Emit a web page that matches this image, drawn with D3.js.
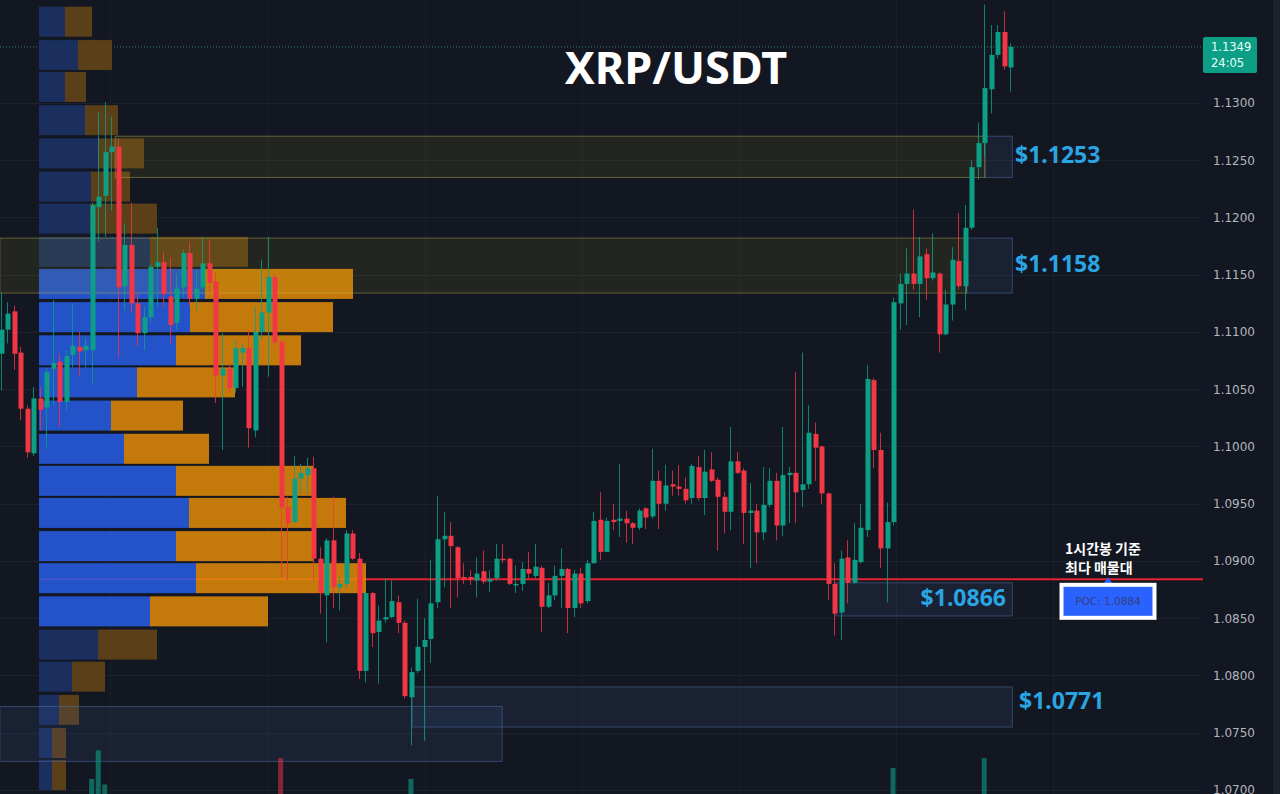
<!DOCTYPE html>
<html>
<head>
<meta charset="utf-8">
<script src="https://cdn.jsdelivr.net/npm/d3@7"></script>
<style>
html, body { margin: 0; padding: 0; background: #131722; overflow: hidden; }
</style>
</head>
<body>
<div id="chart"></div>
<script>
// 1h candles, XRP/USDT
var open = [
1.1081,1.1102,1.1118,1.1082,1.1033,1.0994,1.1042,1.1034,1.1068,1.1074,
1.1039,1.1080,1.1087,1.1084,1.1084,1.1209,1.1219,1.1257,1.1262,1.1140,
1.1176,1.1125,1.1099,1.1113,1.1157,1.1161,1.1131,1.1108,1.1139,1.1169,
1.1129,1.1139,1.1160,1.1144,1.1062,1.1068,1.1051,1.1082,1.1086,1.1014,
1.1100,1.1117,1.1148,1.1091,1.0947,1.0934,1.0972,1.0975,1.0981,1.0902,
1.0870,1.0918,1.0877,1.0880,1.0924,1.0902,1.0804,1.0872,1.0838,1.0849,
1.0851,1.0864,1.0846,1.0781,1.0804,1.0825,1.0832,1.0864,1.0919,1.0922,
1.0912,1.0886,1.0886,1.0883,1.0891,1.0882,1.0885,1.0902,1.0902,1.0879,
1.0880,1.0893,1.0887,1.0894,1.0860,1.0870,1.0887,1.0893,1.0859,1.0889,
1.0865,1.0898,1.0936,1.0908,1.0936,1.0935,1.0937,1.0933,1.0929,1.0946,
1.0939,1.0970,1.0950,1.0967,1.0965,1.0963,1.0955,1.0982,1.0955,1.0980,
1.0971,1.0956,1.0943,1.0987,1.0979,1.0942,1.0944,1.0925,1.0949,1.0970,
1.0931,1.0975,1.0977,1.0962,1.0967,1.1011,1.1000,1.0959,1.0880,1.0855,
1.0903,1.0881,1.0899,1.0927,1.1058,1.0997,1.0911,1.0934,1.1125,1.1142,
1.1151,1.1142,1.1168,1.1147,1.1151,1.1098,1.1124,1.1162,1.1140,1.1191,
1.1244,1.1265,1.1312,1.1342,1.1362,1.1331];

var high = [
1.1134,1.1126,1.1123,1.1087,1.1036,1.1052,1.1052,1.1069,1.1128,1.1081,
1.1084,1.1125,1.1100,1.1095,1.1213,1.1292,1.1301,1.1288,1.1269,1.1195,
1.1213,1.1134,1.1122,1.1160,1.1191,1.1170,1.1165,1.1151,1.1172,1.1179,
1.1154,1.1183,1.1180,1.1152,1.1099,1.1073,1.1093,1.1090,1.1102,1.1122,
1.1163,1.1183,1.1151,1.1093,1.0956,1.0992,1.0985,1.0990,1.0991,1.0912,
1.0920,1.0956,1.0886,1.0927,1.0927,1.0907,1.0873,1.0873,1.0861,1.0885,
1.0883,1.0870,1.0848,1.0807,1.0867,1.0850,1.0901,1.0957,1.0943,1.0934,
1.0913,1.0898,1.0892,1.0903,1.0909,1.0892,1.0915,1.0915,1.0903,1.0896,
1.0899,1.0908,1.0915,1.0896,1.0881,1.0896,1.0911,1.0894,1.0892,1.0894,
1.0901,1.0943,1.0960,1.0938,1.0950,1.0985,1.0944,1.0934,1.0946,1.0947,
1.0998,1.0979,1.0984,1.0979,1.0984,1.0973,1.0985,1.0992,1.0997,1.0995,
1.0973,1.0960,1.1017,1.0995,1.0981,1.0968,1.0950,1.0982,1.0981,1.0977,
1.1017,1.0982,1.1065,1.1082,1.1036,1.1021,1.1001,1.0960,1.0898,1.0909,
1.0918,1.0933,1.0950,1.1071,1.1060,1.1012,1.0951,1.1130,1.1151,1.1173,
1.1207,1.1183,1.1173,1.1186,1.1152,1.1137,1.1174,1.1204,1.1211,1.1250,
1.1283,1.1386,1.1368,1.1368,1.1380,1.1352];

var low = [
1.1049,1.1090,1.1067,1.1023,1.0990,1.0992,1.1014,1.0998,1.1036,1.1017,
1.1032,1.1069,1.1062,1.1069,1.1055,1.1179,1.1183,1.1206,1.1078,1.1119,
1.1117,1.1088,1.1084,1.1108,1.1122,1.1122,1.1090,1.1102,1.1130,1.1123,
1.1119,1.1137,1.1134,1.1038,1.0997,1.1047,1.1047,1.1052,1.0999,1.1008,
1.1093,1.1061,1.1088,1.0886,1.0883,1.0933,1.0959,1.0959,1.0883,1.0854,
1.0829,1.0859,1.0857,1.0877,1.0901,1.0797,1.0794,1.0825,1.0793,1.0846,
1.0850,1.0837,1.0780,1.0739,1.0802,1.0743,1.0811,1.0859,1.0877,1.0859,
1.0868,1.0880,1.0879,1.0868,1.0880,1.0873,1.0883,1.0898,1.0879,1.0872,
1.0874,1.0885,1.0885,1.0838,1.0859,1.0866,1.0859,1.0837,1.0851,1.0859,
1.0863,1.0898,1.0901,1.0908,1.0927,1.0921,1.0916,1.0915,1.0927,1.0928,
1.0937,1.0928,1.0944,1.0957,1.0957,1.0950,1.0950,1.0953,1.0940,1.0969,
1.0909,1.0924,1.0927,1.0976,1.0915,1.0894,1.0898,1.0918,1.0947,1.0918,
1.0922,1.0933,1.0933,1.0947,1.0963,1.0970,1.0950,1.0866,1.0835,1.0831,
1.0863,1.0880,1.0898,1.0921,1.0981,1.0894,1.0864,1.0931,1.1102,1.1106,
1.1137,1.1113,1.1128,1.1145,1.1082,1.1097,1.1110,1.1137,1.1119,1.1189,
1.1233,1.1253,1.1291,1.1339,1.1329,1.1310];

var close = [
1.1102,1.1116,1.1081,1.1033,1.0995,1.1042,1.1032,1.1065,1.1073,1.1039,
1.1079,1.1088,1.1083,1.1088,1.1211,1.1218,1.1257,1.1262,1.1139,1.1176,
1.1125,1.1099,1.1113,1.1157,1.1161,1.1133,1.1106,1.1138,1.1169,1.1129,
1.1138,1.1160,1.1143,1.1062,1.1068,1.1051,1.1086,1.1086,1.1016,1.1100,
1.1117,1.1148,1.1091,1.0947,1.0933,1.0972,1.0977,1.0981,1.0902,1.0872,
1.0918,1.0877,1.0880,1.0924,1.0902,1.0804,1.0872,1.0837,1.0848,1.0851,
1.0865,1.0846,1.0782,1.0803,1.0825,1.0831,1.0863,1.0919,1.0922,1.0913,
1.0885,1.0884,1.0884,1.0889,1.0882,1.0884,1.0902,1.0901,1.0880,1.0880,
1.0893,1.0889,1.0895,1.0860,1.0870,1.0887,1.0893,1.0859,1.0889,1.0863,
1.0898,1.0935,1.0908,1.0935,1.0934,1.0937,1.0933,1.0929,1.0944,1.0938,
1.0970,1.0950,1.0966,1.0965,1.0963,1.0953,1.0983,1.0955,1.0978,1.0970,
1.0956,1.0943,1.0987,1.0977,1.0942,1.0944,1.0925,1.0949,1.0970,1.0931,
1.0975,1.0977,1.0960,1.0967,1.1012,1.0999,1.0959,1.0880,1.0854,1.0902,
1.0881,1.0901,1.0929,1.1059,1.0997,1.0911,1.0934,1.1126,1.1142,1.1151,
1.1142,1.1166,1.1147,1.1152,1.1098,1.1124,1.1163,1.1140,1.1191,1.1244,
1.1265,1.1313,1.1342,1.1362,1.1332,1.1349];

// visible volume spikes (rest hidden below the pane)
var volIdx = [14, 15, 16, 43, 63, 137, 151];
var volVal = [30, 56, 25, 49, 30, 40, 49];

// volume profile (M XRP), rows top to bottom
var profileMid  = [1.1371,1.1342,1.1314,1.1285,1.1256,1.1227,1.1199,1.1170,1.1142,1.1113,1.1084,1.1056,
                   1.1027,1.0998,1.0970,1.0942,1.0913,1.0885,1.0856,1.0827,1.0799,1.0770,1.0741,1.0713];
var profileBuy  = [2.6,3.9,2.6,4.6,5.9,5.2,5.1,11.1,16.6,15.1,13.7,9.8,7.2,8.5,13.7,15.0,13.7,15.7,11.1,5.9,3.3,2.0,1.3,1.3];
var profileSell = [2.7,3.4,2.1,3.3,4.6,3.9,6.7,9.8,14.8,14.3,12.5,9.8,7.2,8.5,13.7,15.7,13.7,17.0,11.8,5.9,3.3,2.0,1.4,1.4];
var valueArea = [1.0842, 1.1156];
var pocPrice = 1.0884;

var priceTicks = [1.13,1.125,1.12,1.115,1.11,1.105,1.10,1.095,1.09,1.085,1.08,1.075,1.07];
var dayLines = [16.75, 40.85, 65.1, 89.2, 113.3, 137.4, 161.5];

// zones: [top, bottom, fromIdx, toIdx]
var yellowZones = [[1.1271, 1.1235, 17.6, 151.1], [1.1182, 1.1134, -0.1, 148.3]];
var blueZones   = [[1.1271, 1.1235, 151.1, 155.3], [1.1182, 1.1134, 148.3, 155.3],
                   [1.0881, 1.0852, 128.1, 155.3], [1.0790, 1.0755, 63.2, 155.3],
                   [1.0773, 1.0725, -0.1, 77.0]];
var levelPrices = [1.1253, 1.1158, 1.0866, 1.0771];
var lastPrice = 1.1349;

var W = 1280, H = 794;
var up = "#0c9f85", down = "#f23645";

var svg = d3.select("#chart").append("svg").attr("width", W).attr("height", H);
svg.append("rect").attr("width", W).attr("height", H).attr("fill", "#131722");

var x = d3.scaleLinear().domain([0, 155]).range([0.5, 1010.3]);
var y = d3.scaleLinear().domain([1.07, 1.13]).range([790, 103]);
var pv = d3.scaleLinear().domain([0, 10]).range([0, 100]);
var vy = d3.scaleLinear().domain([0, 100]).range([812, 702]);
var profileX0 = 39;

// grid
svg.append("g").selectAll("line").data(priceTicks).enter().append("line")
  .attr("x1", 0).attr("x2", 1200)
  .attr("y1", function(d){ return Math.round(y(d)) + 0.5; })
  .attr("y2", function(d){ return Math.round(y(d)) + 0.5; })
  .attr("stroke", "#1d212c");
svg.append("g").selectAll("line").data(dayLines).enter().append("line")
  .attr("x1", function(d){ return Math.round(x(d)) + 0.5; })
  .attr("x2", function(d){ return Math.round(x(d)) + 0.5; })
  .attr("y1", 0).attr("y2", H)
  .attr("stroke", "#1b1f2a");

// current price dotted line
svg.append("line")
  .attr("x1", 0).attr("x2", 1203)
  .attr("y1", y(lastPrice)).attr("y2", y(lastPrice))
  .attr("stroke", "#2f7f72").attr("stroke-dasharray", "1,2");

// POC line (under the profile)
svg.append("line")
  .attr("x1", profileX0).attr("x2", 1203)
  .attr("y1", y(pocPrice)).attr("y2", y(pocPrice))
  .attr("stroke", "#e3232f").attr("stroke-width", 2);

// volume profile
var binHalf = 0.00131;
var rows = profileMid.map(function(m, i){
  return { mid: m, buy: profileBuy[i], sell: profileSell[i],
           inVA: m >= valueArea[0] && m <= valueArea[1] };
});
var prof = svg.append("g").attr("fill-opacity", 0.86);
prof.selectAll(".buy").data(rows).enter().append("rect")
  .attr("x", profileX0)
  .attr("y", function(d){ return y(d.mid + binHalf); })
  .attr("width", function(d){ return pv(d.buy); })
  .attr("height", function(d){ return y(d.mid - binHalf) - y(d.mid + binHalf); })
  .attr("fill", function(d){ return d.inVA ? "#275ce5" : "#1c3369"; });
prof.selectAll(".sell").data(rows).enter().append("rect")
  .attr("x", function(d){ return profileX0 + pv(d.buy); })
  .attr("y", function(d){ return y(d.mid + binHalf); })
  .attr("width", function(d){ return pv(d.sell); })
  .attr("height", function(d){ return y(d.mid - binHalf) - y(d.mid + binHalf); })
  .attr("fill", function(d){ return d.inVA ? "#e28b08" : "#674619"; });

// zones
svg.append("g").selectAll("rect").data(blueZones).enter().append("rect")
  .attr("x", function(d){ return x(d[2]); })
  .attr("y", function(d){ return y(d[0]); })
  .attr("width", function(d){ return x(d[3]) - x(d[2]); })
  .attr("height", function(d){ return y(d[1]) - y(d[0]); })
  .attr("fill", "rgba(70,100,170,0.13)")
  .attr("stroke", "rgba(80,110,160,0.55)").attr("stroke-width", 1);
svg.append("g").selectAll("rect").data(yellowZones).enter().append("rect")
  .attr("x", function(d){ return x(d[2]); })
  .attr("y", function(d){ return y(d[0]); })
  .attr("width", function(d){ return x(d[3]) - x(d[2]); })
  .attr("height", function(d){ return y(d[1]) - y(d[0]); })
  .attr("fill", "rgba(170,160,20,0.11)")
  .attr("stroke", "rgba(200,190,80,0.42)").attr("stroke-width", 1);

// volume spikes
svg.append("g").selectAll("rect").data(volIdx).enter().append("rect")
  .attr("x", function(d){ return x(d) - 2.5; })
  .attr("y", function(d, i){ return vy(volVal[i]); })
  .attr("width", 5)
  .attr("height", function(d, i){ return vy(0) - vy(volVal[i]); })
  .attr("fill", function(d){ return close[d] >= open[d] ? "rgba(12,159,133,0.6)" : "rgba(242,54,69,0.5)"; });

// candles
var candles = d3.range(open.length).map(function(i){
  return { i: i, o: open[i], h: high[i], l: low[i], c: close[i] };
});
var cg = svg.append("g");
cg.selectAll("line").data(candles).enter().append("line")
  .attr("x1", function(d){ return Math.round(x(d.i)) + 0.5; })
  .attr("x2", function(d){ return Math.round(x(d.i)) + 0.5; })
  .attr("y1", function(d){ return y(d.h); })
  .attr("y2", function(d){ return y(d.l); })
  .attr("stroke", function(d){ return d.c >= d.o ? up : down; })
  .attr("stroke-opacity", 0.8);
cg.selectAll("rect").data(candles).enter().append("rect")
  .attr("x", function(d){ return Math.round(x(d.i)) - 1.5; })
  .attr("y", function(d){ return y(Math.max(d.o, d.c)); })
  .attr("width", 5)
  .attr("height", function(d){ return Math.max(1.5, Math.abs(y(d.o) - y(d.c))); })
  .attr("fill", function(d){ return d.c >= d.o ? up : down; });

// price axis
var axis = svg.append("g").attr("transform", "translate(1213,0)")
  .call(d3.axisRight(y).tickValues(priceTicks).tickSize(0).tickPadding(0).tickFormat(d3.format(".4f")));
axis.select(".domain").remove();
axis.selectAll("text").attr("fill", "#b2b5be").style("font-family", "DejaVu Sans").style("font-size", "12px");
svg.append("rect").attr("x", 1273).attr("y", 0).attr("width", 7).attr("height", H).attr("fill", "#1e222c");

// last price tag
svg.append("rect").attr("x", 1203).attr("y", 37).attr("width", 54).attr("height", 36)
  .attr("rx", 2).attr("fill", "#0c9f85");
svg.append("text").attr("x", 1211).attr("y", 51).text(d3.format(".4f")(lastPrice))
  .attr("fill", "#e8fff9").style("font-family", "DejaVu Sans").style("font-size", "11.5px");
svg.append("text").attr("x", 1211).attr("y", 67).text("24:05")
  .attr("fill", "#e8fff9").style("font-family", "DejaVu Sans").style("font-size", "11.5px");

// title
svg.append("text").attr("x", 676).attr("y", 84).attr("text-anchor", "middle")
  .text("XRP/USDT").attr("fill", "#ffffff")
  .style("font-family", "Noto Sans").style("font-weight", "bold").style("font-size", "45px");

// level labels
var lbl = svg.append("g").style("font-family", "Noto Sans").style("font-weight", "bold").style("font-size", "23px");
levelPrices.forEach(function(p, i){
  var t = lbl.append("text").attr("y", y(p)).attr("dy", "0.28em")
    .attr("fill", "#2aa5e2").text("$" + d3.format(".4f")(p));
  if (i === 2) t.attr("x", 1006).attr("text-anchor", "end");
  else if (i === 3) t.attr("x", 1019).attr("dy", "0.02em");
  else t.attr("x", 1015);
});

// POC annotation
var note = svg.append("g").style("font-family", "'Noto Sans CJK KR'").style("font-weight", "bold")
  .style("font-size", "14px").attr("fill", "#ffffff");
note.append("text").attr("x", 1065).attr("y", 554).text("1시간봉 기준");
note.append("text").attr("x", 1065).attr("y", 573).text("최다 매물대");

var py = y(pocPrice);
svg.append("path")
  .attr("d", "M1108," + (py - 2) + "L1113," + (py + 5) + "L1103," + (py + 5) + "Z")
  .attr("fill", "#2962ff");
svg.append("rect").attr("x", 1061.5).attr("y", py + 5.5).attr("width", 93).attr("height", 33)
  .attr("fill", "#2962ff").attr("stroke", "#ffffff").attr("stroke-width", 4);
svg.append("text").attr("x", 1108).attr("y", py + 22).attr("dy", "0.35em").attr("text-anchor", "middle")
  .text("POC: " + d3.format(".4f")(pocPrice))
  .attr("fill", "#34407a").style("font-family", "DejaVu Sans").style("font-size", "10.5px");
</script>
</body>
</html>
